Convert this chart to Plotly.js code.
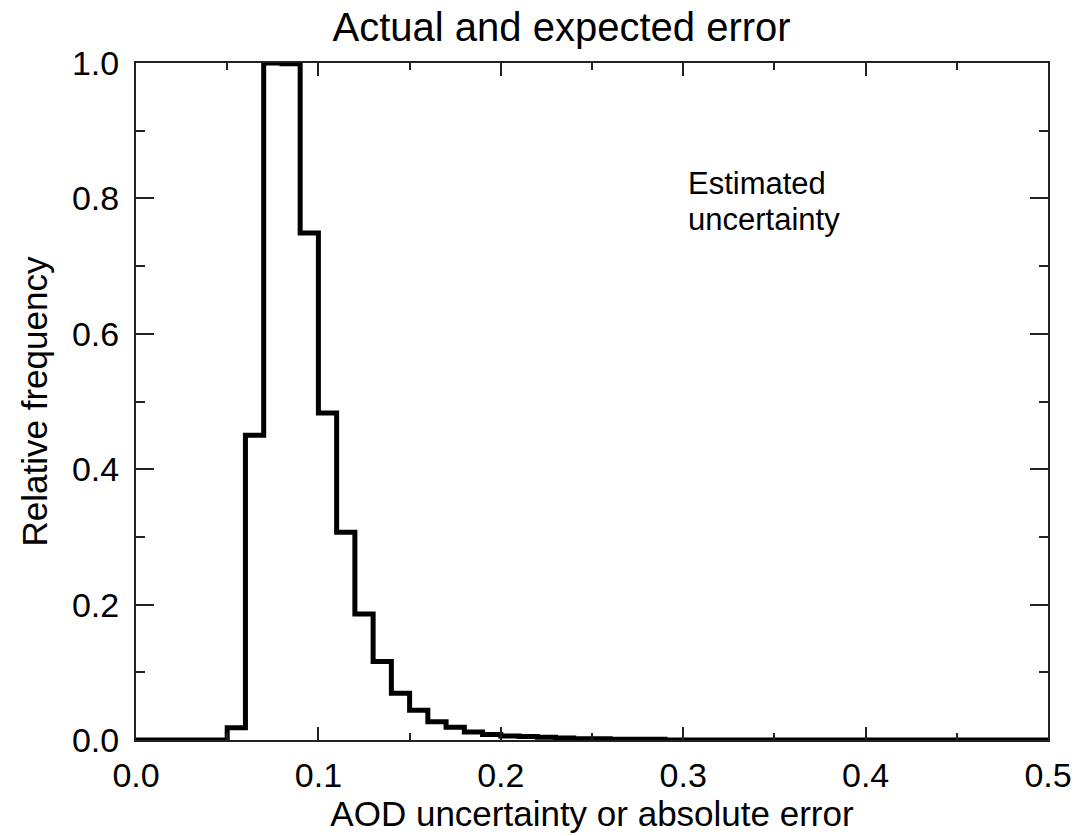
<!DOCTYPE html>
<html>
<head>
<meta charset="utf-8">
<script src="https://cdn.plot.ly/plotly-3.0.1.min.js"></script>
<style>
  html, body { margin: 0; padding: 0; background: #fff; }
  #chart { width: 1080px; height: 836px; }
</style>
</head>
<body>
<div id="chart"></div>
<script>
// Histogram bin left edges (AOD uncertainty)
const binEdges = [0.00, 0.01, 0.02, 0.03, 0.04, 0.05, 0.06, 0.07, 0.08, 0.09,
                  0.10, 0.11, 0.12, 0.13, 0.14, 0.15, 0.16, 0.17, 0.18, 0.19,
                  0.20, 0.21, 0.22, 0.23, 0.24, 0.25, 0.26, 0.27, 0.28, 0.29,
                  0.30, 0.35, 0.40, 0.45, 0.50];
// Relative frequency of each bin
const relFreq = [0, 0, 0, 0, 0, 0.018, 0.45, 1.0, 0.999, 0.749,
                 0.483, 0.307, 0.186, 0.116, 0.069, 0.044, 0.027, 0.019, 0.012, 0.008,
                 0.006, 0.005, 0.004, 0.003, 0.002, 0.002, 0.001, 0.001, 0.001, 0,
                 0, 0, 0, 0, 0];

const xTickVals = [0.0, 0.1, 0.2, 0.3, 0.4, 0.5];
const xTickText = ['0.0', '0.1', '0.2', '0.3', '0.4', '0.5'];
const yTickVals = [0.0, 0.2, 0.4, 0.6, 0.8, 1.0];
const yTickText = ['0.0', '0.2', '0.4', '0.6', '0.8', '1.0'];

const titleText = 'Actual and expected error';
const xTitle = 'AOD uncertainty or absolute error';
const yTitle = 'Relative frequency';
const noteLines = ['Estimated', 'uncertainty'];

const FONT = 'Liberation Sans, Arial, Helvetica, sans-serif';

const trace = {
  x: binEdges,
  y: relFreq,
  type: 'scatter',
  mode: 'lines',
  line: { shape: 'hv', color: '#000', width: 5 },
  cliponaxis: false,
  hoverinfo: 'skip'
};

const layout = {
  width: 1080,
  height: 836,
  margin: { l: 136, r: 32, t: 63, b: 96 },
  paper_bgcolor: '#fff',
  plot_bgcolor: '#fff',
  showlegend: false,
  font: { family: FONT, color: '#000', size: 30 },
  title: {
    text: titleText,
    font: { family: FONT, size: 40, color: '#000' },
    x: 0.52, xanchor: 'center',
    y: 0.968, yanchor: 'middle'
  },
  xaxis: {
    range: [0, 0.5],
    tickvals: xTickVals,
    ticktext: xTickText,
    ticks: 'inside',
    ticklen: 13,
    tickwidth: 2,
    tickcolor: '#222',
    minor: { dtick: 0.05, ticks: 'inside', ticklen: 7, tickwidth: 2, tickcolor: '#222', showgrid: false },
    showline: true,
    linecolor: '#222',
    linewidth: 2,
    mirror: 'allticks',
    showgrid: false,
    zeroline: false,
    tickfont: { family: FONT, size: 34, color: '#000' },
    ticklabelstandoff: 4,
    title: { text: xTitle, font: { family: FONT, size: 35, color: '#000' }, standoff: 4 }
  },
  yaxis: {
    range: [0, 1],
    tickvals: yTickVals,
    ticktext: yTickText,
    ticks: 'inside',
    ticklen: 18,
    tickwidth: 2,
    tickcolor: '#222',
    minor: { dtick: 0.1, ticks: 'inside', ticklen: 9, tickwidth: 2, tickcolor: '#222', showgrid: false },
    showline: true,
    linecolor: '#222',
    linewidth: 2,
    mirror: 'allticks',
    showgrid: false,
    zeroline: false,
    tickfont: { family: FONT, size: 34, color: '#000' },
    ticklabelstandoff: 8,
    title: { text: yTitle, font: { family: FONT, size: 35, color: '#000' }, standoff: 14 }
  },
  annotations: [
    {
      x: 0.302, y: 0.85, xref: 'x', yref: 'y',
      xanchor: 'left', yanchor: 'top', align: 'left',
      text: noteLines[0], showarrow: false, borderpad: 0,
      font: { family: FONT, size: 31, color: '#000' }
    },
    {
      x: 0.302, y: 0.796, xref: 'x', yref: 'y',
      xanchor: 'left', yanchor: 'top', align: 'left',
      text: noteLines[1], showarrow: false, borderpad: 0,
      font: { family: FONT, size: 31, color: '#000' }
    }
  ]
};

Plotly.newPlot('chart', [trace], layout, { staticPlot: true, displayModeBar: false });
</script>
</body>
</html>
